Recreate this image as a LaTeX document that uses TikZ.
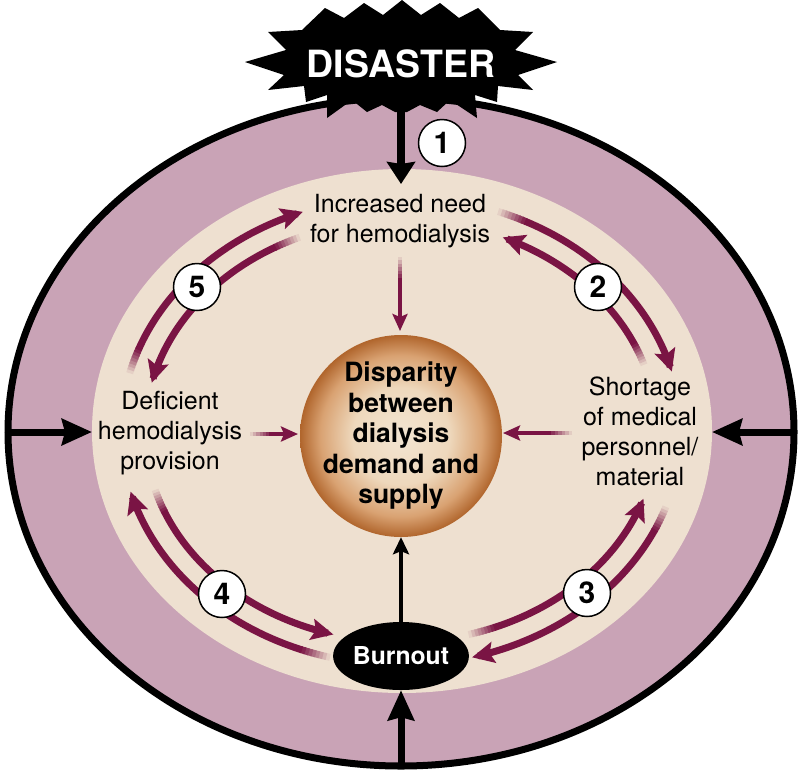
\documentclass[tikz,border=0pt]{standalone}
\usepackage{fontspec}
\setmainfont{TeX Gyre Heros}
\usetikzlibrary{arrows.meta,shapes.geometric,calc}
\definecolor{band}{HTML}{C9A3B6}
\definecolor{beige}{HTML}{EEE0D0}
\definecolor{maroon}{HTML}{7A1444}
\definecolor{discin}{HTML}{F3E5D2}
\definecolor{discmid}{HTML}{EED8BC}
\definecolor{discring}{HTML}{D9A272}
\definecolor{discout}{HTML}{B0652C}
\pgfdeclareradialshading{discshade}{\pgfpoint{0bp}{0bp}}{color(0bp)=(discin); color(12bp)=(discmid); color(20bp)=(discring); color(25bp)=(discout); color(50bp)=(discout)}
\tikzset{
  arcline/.style={line width=7pt, draw=maroon},
  marrowhead/.style={-{Stealth[length=22pt,width=21pt,inset=4pt]}},
  blackarrow/.style={line width=7pt, draw=black, -{Stealth[length=30pt,width=26pt,inset=3pt]}},
  txt/.style={align=center, inner sep=0pt, font=\fontsize{25}{30}\selectfont},
  bigtxt/.style={align=center, inner sep=0pt, font=\bfseries\fontsize{26.5}{30.5}\selectfont},
  num/.style={circle, draw=black, line width=1.5pt, fill=white, minimum size=47pt, inner sep=0pt, font=\bfseries\fontsize{30}{30}\selectfont},
  disc/.style={circle, minimum size=202pt, inner sep=0pt, shading=discshade, shade},
  burnbox/.style={ellipse, fill=black, minimum width=134pt, minimum height=68pt, inner sep=0pt, text=white, font=\bfseries\fontsize{24.7}{28}\selectfont},
}
% curved arc with faded tail: a, b, start angle (faded), end angle (arrow)
\newcommand\marc[4]{%
  \pgfmathsetmacro\dd{ifthenelse(#4>#3,6,-6)}%
  \foreach \i in {0,...,7}{%
    \pgfmathsetmacro\ta{#3+\dd*\i/8}%
    \pgfmathsetmacro\tb{#3+\dd*(\i+1.4)/8}%
    \pgfmathtruncatemacro\cc{8+\i*12}%
    \draw[line width=7pt, draw=maroon!\cc!beige] plot[domain=\ta:\tb,samples=3,variable=\t] ({401+#1*cos(\t)},{431+#2*sin(\t)});
  }%
  \pgfmathsetmacro\tc{#3+\dd}%
  \draw[arcline,marrowhead] plot[domain=\tc:#4,samples=40,variable=\t] ({401+#1*cos(\t)},{431+#2*sin(\t)});
}
% straight maroon arrow with faded tail: from, to, fade fraction
\newcommand\fline[3]{%
  \foreach \i in {0,...,5}{%
    \pgfmathsetmacro\fa{\i*#3/6}%
    \pgfmathsetmacro\fb{(\i+1.4)*#3/6}%
    \pgfmathtruncatemacro\cc{10+\i*15}%
    \draw[line width=4pt, draw=maroon!\cc!beige] ($(#1)!\fa!(#2)$) -- ($(#1)!\fb!(#2)$);
  }%
  \draw[line width=4pt, maroon, -{Stealth[length=17pt,width=15pt,inset=3pt]}] ($(#1)!#3!(#2)$) -- (#2);
}
\begin{document}
\begin{tikzpicture}[x=1pt,y=-1pt]
\useasboundingbox (0,0) rectangle (802,772);
% ellipses
\draw[line width=7pt, fill=band] (401,432) ellipse [x radius=393pt, y radius=334pt];
\fill[beige] (402,431) ellipse [x radius=310pt, y radius=262pt];
% coordinates
\coordinate (Lout) at (8,432);
\coordinate (Lin) at (92,432);
\coordinate (Rout) at (795,432);
\coordinate (Rin) at (712,432);
\coordinate (Bout) at (401,767);
\coordinate (Tstem) at (401,100);
\coordinate (Ttip) at (401,184);
% side arrows
\draw[blackarrow] (Lout) -- (Lin);
\draw[blackarrow] (Rout) -- (Rin);
% starburst
\fill[black] (402,0) -- (421,15) -- (440,3) -- (459,18) -- (478,8) -- (500,30) -- (533,32) -- (515,50) -- (557,62) -- (518,75) -- (533,90) -- (498,86) -- (497,102) -- (475,95) -- (477,118) -- (450,100) -- (437,112) -- (420,105) -- (407,112) -- (395,112) -- (382,105) -- (367,112) -- (352,100) -- (327,118) -- (327,95) -- (306,102) -- (304,86) -- (268,90) -- (284,75) -- (245,62) -- (286,50) -- (268,32) -- (302,30) -- (325,8) -- (344,18) -- (364,3) -- (383,15) -- cycle;
\node[text=white, inner sep=0pt, font=\bfseries\fontsize{37.5}{40}\selectfont] (dis) at (401,63.5) {DISASTER};
\draw[line width=8pt, -{Stealth[length=22pt,width=28pt,inset=2pt]}] (Tstem) -- (Ttip);
% center disc and burnout
\node[disc] (disp) at (401,436) {};
\node[bigtxt] (disptxt) at (401,436) {Disparity\\between\\dialysis\\demand and\\supply};
\node[burnbox] (burn) at (401,656) {Burnout};
\draw[blackarrow] (Bout) -- (burn.south);
\draw[line width=4pt, -{Stealth[length=17pt,width=16pt,inset=3pt]}] (burn.north) -- (disp.south);
% text nodes
\node[txt] (inc) at (400,221) {Increased need\\for hemodialysis};
\node[txt] (def) at (170,433) {Deficient\\hemodialysis\\provision};
\node[txt] (sho) at (640,431) {Shortage\\of medical\\personnel/\\material};
% straight maroon arrows
\coordinate (incS) at (400,257);
\coordinate (incT) at (400,331);
\coordinate (defS) at (250,434);
\coordinate (defT) at (298,434);
\coordinate (shoS) at (572,433);
\coordinate (shoT) at (503,433);
\fline{incS}{incT}{0.28}
\fline{defS}{defT}{0.4}
\fline{shoS}{shoT}{0.3}
% arc pairs
\marc{280}{234}{194.3}{249.5}
\marc{256}{211}{246.7}{193.2}
\marc{280}{234}{290.3}{345.3}
\marc{256}{211}{341.7}{293.4}
\marc{256}{211}{74.7}{18.7}
\marc{280}{234}{18.9}{75.3}
\marc{256}{211}{163.8}{105.3}
\marc{280}{234}{104.7}{165}
% number circles
\node[num] (n1) at (442,143) {1};
\node[num] (n2) at (598,287) {2};
\node[num] (n3) at (587,593) {3};
\node[num] (n4) at (222,594) {4};
\node[num] (n5) at (197,287) {5};
\end{tikzpicture}
\end{document}
